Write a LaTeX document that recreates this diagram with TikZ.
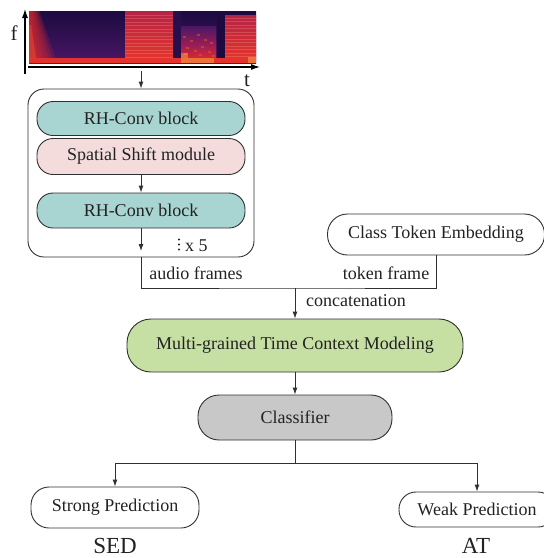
\documentclass[tikz,border=0pt]{standalone}
\usepackage{fontspec}
\setmainfont{Liberation Serif}
\usetikzlibrary{arrows.meta}

\definecolor{linec}{HTML}{303030}
\definecolor{txtc}{HTML}{222222}
\definecolor{tealbox}{HTML}{A8D5D1}
\definecolor{pinkbox}{HTML}{F3DCDB}
\definecolor{greenbox}{HTML}{C6E0A4}
\definecolor{greybox}{HTML}{C8C8C8}
\definecolor{specdark}{HTML}{1C0A40}
\definecolor{specpurple}{HTML}{4A1766}
\definecolor{specmag}{HTML}{9A1E55}
\definecolor{specred}{HTML}{E02A2E}
\definecolor{specorange}{HTML}{F0642A}
\definecolor{specyellow}{HTML}{F8C24A}

\tikzset{
  conn/.style={draw=linec, line width=0.9pt},
  arr/.style={conn, -{Latex[length=7pt,width=5pt]}},
  axisarr/.style={draw=black, line width=1.1pt, -{Latex[length=9pt,width=6pt]}},
  pill/.style={draw=linec, line width=0.9pt, inner sep=0pt, text=txtc,
    font=\fontsize{18}{21}\selectfont},
  lbl/.style={text=txtc, inner sep=0pt, font=\fontsize{18}{21}\selectfont},
  biglbl/.style={text=txtc, inner sep=0pt, font=\fontsize{23}{27}\selectfont},
}

\begin{document}
\begin{tikzpicture}[x=1pt, y=-1pt]
\clip (0,0) rectangle (544,558);

% ---------- spectrogram ----------
\shade[top color=specdark, bottom color=specpurple] (29,11) rectangle (256,63);
% onset and its decay at the left edge (stacked translucent wedges)
\foreach \k in {0,...,6}
  \fill[specred, opacity=0.2] (29,11) -- ({30.5+1.5*\k},11) -- ({36+3.5*\k},63) -- (29,63) -- cycle;
\fill[specorange, opacity=0.35] (29,25) -- (31,25) -- (37,63) -- (29,63) -- cycle;
% first loud segment
\shade[top color=specmag!60!specred, bottom color=specred!80!specorange] (125,11) rectangle (173,60);
\foreach \yy in {15,18.5,...,57}
  \draw[specorange!50!white, opacity=0.25, line width=0.7pt] (125,\yy) -- (173,\yy);
% middle segment: purple on top, mixed red lower down
\fill[specdark!70!specpurple] (173,11) rectangle (181,60);
\shade[top color=specpurple, bottom color=specmag] (181,26) rectangle (216,45);
\shade[top color=specmag, bottom color=specred] (181,45) rectangle (216,60);
\foreach \xx/\yy in {183/36,190/40,197/34,204/39,210/42,186/47,194/50,201/46,208/51,184/53,199/54,212/55}
  \fill[specorange, opacity=0.45] (\xx,\yy) rectangle ++(3,2);
\fill[specyellow, opacity=0.45] (181,53) rectangle (188,60);
% quiet gap
\fill[specdark] (217,11) rectangle (225,60);
% second loud segment
\shade[top color=specmag!60!specred, bottom color=specred!80!specorange] (225,15) rectangle (256,60);
\foreach \yy in {18,21.5,...,58}
  \draw[specorange!50!white, opacity=0.25, line width=0.7pt] (225,\yy) -- (256,\yy);
% low-frequency band
\fill[specred!85!specorange] (29,58) rectangle (256,63);
\fill[specyellow, opacity=0.45] (181,58) rectangle (214,63);
\fill[specyellow, opacity=0.45] (248,57) rectangle (256,63);
\node[inner sep=0pt, minimum width=227pt, minimum height=52pt] (spec) at (142.5,37) {};

% axes
\draw[axisarr] (25,74) -- (25,9);
\draw[axisarr] (28,67) -- (260,67);
\node[biglbl, font=\fontsize{21}{24}\selectfont] (flab) at (14,33) {f};
\node[biglbl, font=\fontsize{21}{24}\selectfont] (tlab) at (247,81) {t};
\coordinate (specout) at (141,71);

% ---------- encoder stack ----------
\node[draw=linec, line width=0.9pt, rounded corners=16pt, minimum width=226pt,
      minimum height=168pt, inner sep=0pt] (outer) at (141,173) {};
\node[pill, fill=tealbox, rounded corners=16pt, minimum width=208pt, minimum height=34pt]
  (rh1) at (141,118.5) {RH-Conv block};
\node[pill, fill=pinkbox, rounded corners=16pt, minimum width=208pt, minimum height=36pt]
  (ss) at (141,156.5) {Spatial Shift module};
\node[pill, fill=tealbox, rounded corners=16pt, minimum width=208pt, minimum height=35pt]
  (rh2) at (141,210.5) {RH-Conv block};
\coordinate (stackend) at (141,251);
% repetition mark: vertical dots and count
\foreach \yy in {239.5,244.5,249.5}
  \fill[txtc] (179,\yy) circle (1.2pt);
\node[lbl, anchor=west] (rep) at (185,246) {x 5};

% ---------- class token ----------
\node[pill, rounded corners=20pt, minimum width=217pt, minimum height=41pt]
  (cte) at (436,234.5) {Class Token Embedding};

% ---------- main path ----------
\node[pill, fill=greenbox, rounded corners=24pt, minimum width=336pt, minimum height=53pt]
  (mtc) at (295,345.5) {Multi-grained Time Context Modeling};
\node[pill, fill=greybox, rounded corners=21pt, minimum width=194pt, minimum height=45pt]
  (cls) at (295,417.5) {Classifier};
\node[pill, rounded corners=18pt, minimum width=168pt, minimum height=41pt]
  (strong) at (115,507.5) {Strong Prediction};
\node[pill, rounded corners=17pt, minimum width=156pt, minimum height=35pt]
  (weak) at (477,509.5) {Weak Prediction};
\node[biglbl] (sed) at (115,546) {SED};
\node[biglbl] (at) at (476,546) {AT};

% ---------- connectors ----------
\draw[arr] (specout) -- (outer.north);
\draw[arr] (ss) -- (rh2);
\draw[arr] (rh2) -- (stackend);
\coordinate (joint) at (295,288);
\draw[conn] (outer.south) |- (joint) -| (cte.south);
\draw[arr] (joint) -- (mtc.north);
\draw[arr] (mtc) -- (cls);
\coordinate (split) at (295,463);
\draw[conn] (cls.south) -- (split);
\draw[arr] (split) -| (strong.north);
\draw[arr] (split) -| (weak.north);

\node[lbl] (audiolab) at (196,273) {audio frames};
\node[lbl] (toklab) at (386,273) {token frame};
\node[lbl] (catlab) at (356,301) {concatenation};
\end{tikzpicture}
\end{document}
